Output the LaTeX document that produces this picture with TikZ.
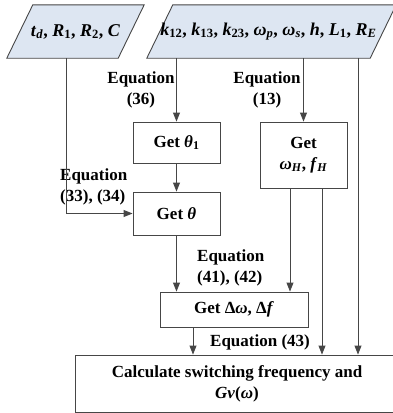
\documentclass[tikz,border=0pt]{standalone}
\usepackage{fontspec}
\newfontfamily\tmsfont{Liberation Serif}
\usetikzlibrary{arrows.meta,positioning}
\definecolor{paraf}{RGB}{221,230,242}
\definecolor{lnc}{RGB}{70,70,70}
\newcommand{\sbs}[1]{\textsubscript{#1}}

\begin{document}
\begin{tikzpicture}[x=1pt,y=-1pt,
  font=\tmsfont\fontsize{17}{21}\selectfont\bfseries,
  inp/.style={rectangle,minimum height=53pt,inner sep=0pt},
  intxt/.style={font=\tmsfont\fontsize{18}{21}\selectfont\bfseries},
  box/.style={rectangle,draw=lnc,line width=0.9pt,inner sep=0pt,align=center},
  lbl/.style={align=center,inner sep=0pt},
  arr/.style={-{Triangle[length=9pt,width=7pt]},lnc,line width=0.9pt}
]
\useasboundingbox (0,0) rectangle (392,413);
% inputs
\node[inp,minimum width=111pt] (in1) at (75.5,31.5) {};
\node[inp,minimum width=223pt] (in2) at (271.5,31.5) {};
\foreach \p in {in1,in2}{
  \draw[lnc,line width=0.9pt,fill=paraf] ([xshift=-13pt]\p.south west) -- ([xshift=-13pt]\p.south east)
    -- ([xshift=13pt]\p.north east) -- ([xshift=13pt]\p.north west) -- cycle;
}
\node[intxt] (t1) at (in1) {\textit{t}\sbs{\textit{d}}, \textit{R}\sbs{1}, \textit{R}\sbs{2}, \textit{C}};
\node[intxt] (t2) at ([xshift=-3pt]in2.center) {\textit{k}\sbs{12}, \textit{k}\sbs{13}, \textit{k}\sbs{23}, \textit{ω}\sbs{\textit{p}}, \textit{ω}\sbs{\textit{s}}, \textit{h}, \textit{L}\sbs{1}, \textit{R}\sbs{\textit{E}}};
% steps
\node[box,minimum width=87pt,minimum height=41pt] (th1) at (176.5,142.5) {Get \textit{θ}\sbs{1}};
\node[box,minimum width=87pt,minimum height=66pt] (wh) at (303.5,155) {Get\\\textit{ω}\sbs{\textit{H}}, \textit{f}\sbs{\textit{H}}};
\node[box,minimum width=87pt,minimum height=43pt] (th) at (176.5,213.5) {Get \textit{θ}};
\node[box,minimum width=148pt,minimum height=35pt] (dw) at (234,309.5) {Get Δ\textit{ω}, Δ\textit{f}};
\node[box,minimum width=324pt,minimum height=57pt] (fin) at (237,383.5) {Calculate switching frequency and\\\textit{Gv}(\textit{ω})};
\coordinate (rE) at ([xshift=121pt]fin.north);
% labels
\node[lbl] (e36) at (141,90) {Equation\\(36)};
\node[lbl] (e13) at (267,90) {Equation\\(13)};
\node[lbl,align=left,anchor=west] (e33) at (60,187) {Equation\\(33), (34)};
\node[lbl,align=left,anchor=west] (e41) at (197,268) {Equation\\(41), (42)};
\node[lbl] (e43) at (260,342) {Equation (43)};
% connectors
\draw[arr] ([xshift=-9.5pt]in1.south) |- (th.west);
\draw[arr] (in2.south -| th1.north) -- (th1.north);
\draw[arr] (in2.south -| wh.north) -- (wh.north);
\draw[arr] (in2.south -| rE) -- (rE);
\draw[arr] (th1.south) -- (th.north);
\draw[arr] (th.south) -- (th.south |- dw.north);
\draw[arr] ([xshift=-13.5pt]wh.south) -- ([xshift=-13.5pt]wh.south |- dw.north);
\draw[arr] ([xshift=18.5pt]wh.south) -- ([xshift=18.5pt]wh.south |- fin.north);
\draw[arr] ([xshift=-41pt]dw.south) -- ([xshift=-41pt]dw.south |- fin.north);
\end{tikzpicture}
\end{document}
